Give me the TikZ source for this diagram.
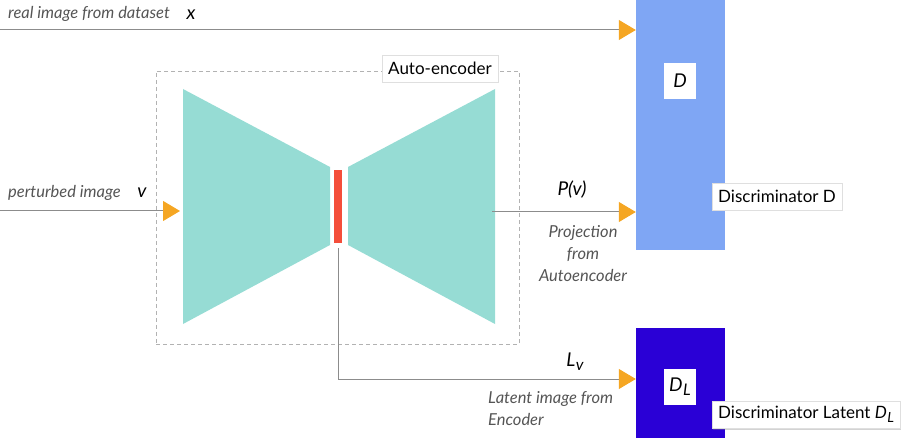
\documentclass[tikz,border=0pt]{standalone}
\usepackage{fontspec}
\setmainfont{Lato}
\usetikzlibrary{arrows.meta,shadows,calc}
\definecolor{teal1}{HTML}{96DCD4}
\definecolor{red1}{HTML}{F44E3A}
\definecolor{lblue}{HTML}{7FA6F4}
\definecolor{dblue}{HTML}{2A00D6}
\definecolor{orng}{HTML}{F5A623}
\definecolor{lgray}{HTML}{8C8C8C}
\definecolor{tgray}{HTML}{555555}
\tikzset{
  conn/.style={draw=lgray, line width=1pt, -{Triangle[length=17pt,width=20pt,color=orng,fill=orng]}},
  disc/.style={draw=none, minimum width=89pt, inner sep=0pt},
  wbox/.style={fill=white, draw=none, minimum width=32pt, minimum height=36pt, inner sep=0pt, font=\fontsize{19}{22}\selectfont\itshape},
  lbox/.style={fill=white, draw=gray!25, line width=0.4pt, minimum height=27pt, inner xsep=6pt, inner ysep=0pt, font=\fontsize{17}{19}\selectfont,
    drop shadow={shadow xshift=1pt, shadow yshift=-1.5pt, opacity=0.35, fill=gray}},
  glabel/.style={text=tgray, font=\fontsize{16.5}{22}\selectfont\itshape, inner sep=0pt},
  vlabel/.style={text=black, font=\fontsize{19}{22}\selectfont\itshape, inner sep=0pt},
}
\begin{document}
\begin{tikzpicture}[x=1pt,y=-1pt]
\useasboundingbox (0,0) rectangle (910,438);

% autoencoder dashed frame
\node[draw=gray!60, dashed, dash pattern=on 4pt off 3pt, line width=0.8pt, minimum width=363pt, minimum height=273pt, inner sep=0pt] (AE) at (337.5,207.5) {};

% encoder and decoder
\fill[teal1] (183,89) -- (330,167) -- (330,245) -- (183,324) -- cycle;
\fill[teal1] (348,167) -- (495,89) -- (495,324) -- (348,245) -- cycle;
\coordinate (encin) at (180,211);
\coordinate (decout) at (492,212);

% latent bar
\node[fill=red1, minimum width=8pt, minimum height=73pt, inner sep=0pt] (lat) at (338,206.5) {};

% discriminators
\node[disc, fill=lblue, minimum height=250pt] (D) at (680.5,125) {};
\node[disc, fill=dblue, minimum height=110pt] (DL) at (680.5,383) {};
\node[wbox] (Dlab) at (680,81) {D};
\node[wbox] (DLlab) at (680,387) {D\kern0.5pt\raisebox{-4pt}{\fontsize{16}{18}\selectfont L}};

% label boxes
\node[lbox, anchor=west] (AElab) at (382,68.5) {Auto-encoder};
\node[lbox, anchor=west] (Dname) at (712,196.5) {Discriminator D};
\node[lbox, anchor=west] (DLname) at (712,414.5) {Discriminator Latent \textit{D\kern0.5pt\raisebox{-3.5pt}{\fontsize{14}{16}\selectfont L}}};

% connectors
\coordinate (srcx) at (0,30);
\coordinate (srcv) at (0,211);
\coordinate (lvy) at (0,379);
\draw[conn] (srcx) -- (D.west |- srcx);
\draw[conn] (srcv) -- (encin);
\draw[conn] (decout) -- (D.west |- decout);
\draw[conn] ($(lat.south)+(0,5)$) |- (DL.west |- lvy);

% text labels
\node[glabel, anchor=west] (t1) at (8,14) {real image from dataset};
\node[vlabel] (t1v) at (191,15) {x};
\node[glabel, anchor=west] (t2) at (8,193) {perturbed image};
\node[vlabel] (t2v) at (142,193) {v};
\node[vlabel] (pv) at (572,190) {P(v)};
\node[glabel, align=center] (proj) at (583,254) {Projection\\from\\Autoencoder};
\node[vlabel] (lv) at (575,362) {L\kern0.5pt\raisebox{-4pt}{\fontsize{16}{18}\selectfont v}};
\node[glabel, align=left, anchor=west] (lat2) at (488,409) {Latent image from\\Encoder};
\end{tikzpicture}
\end{document}
